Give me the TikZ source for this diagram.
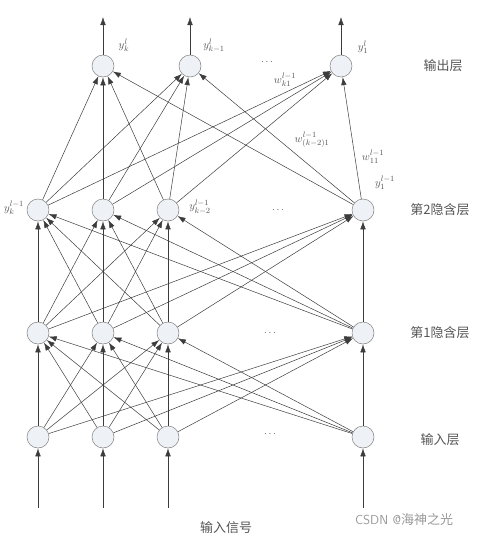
\documentclass[tikz,border=0pt]{standalone}
\usepackage{fontspec}
\newfontfamily\cjk{Noto Sans CJK SC}
\usetikzlibrary{arrows.meta}
\definecolor{nodefill}{RGB}{238,242,246}
\definecolor{linegray}{RGB}{60,60,60}
\definecolor{textgray}{RGB}{85,85,85}
\tikzset{
  neuron/.style={circle, draw=gray, fill=nodefill, minimum size=22pt, inner sep=0pt},
  layername/.style={text=textgray, font=\cjk\fontsize{13}{15}\selectfont},
  wlabel/.style={text=textgray, inner sep=0.5pt, font=\fontsize{11}{13}\selectfont},
}
\begin{document}
\begin{tikzpicture}[x=1pt, y=-1pt, >={Latex[length=8pt,width=5.5pt]}, line width=0.5pt, color=linegray]
\useasboundingbox (0,0) rectangle (487,538);
% output layer
\node[neuron] (o1) at (103,66) {};
\node[neuron] (o2) at (190,66) {};
\node[neuron] (o3) at (341,66) {};
% hidden layer 2
\node[neuron] (b1) at (38,210) {};
\node[neuron] (b2) at (103,210) {};
\node[neuron] (b3) at (168,210) {};
\node[neuron] (b4) at (363,210) {};
% hidden layer 1
\node[neuron] (a1) at (38,333) {};
\node[neuron] (a2) at (103,333) {};
\node[neuron] (a3) at (168,333) {};
\node[neuron] (a4) at (363,333) {};
% input layer
\node[neuron] (i1) at (38,437) {};
\node[neuron] (i2) at (103,437) {};
\node[neuron] (i3) at (168,437) {};
\node[neuron] (i4) at (363,437) {};
% free ends
\coordinate (s1) at (38,508);
\coordinate (s2) at (103,508);
\coordinate (s3) at (168,508);
\coordinate (s4) at (363,508);
\coordinate (t1) at (103,17);
\coordinate (t2) at (190,17);
\coordinate (t3) at (341,17);
% dots
\node[text=textgray] (dots3) at (267,62) {$\cdots$};
\node[text=textgray] (dots2) at (278,210) {$\cdots$};
\node[text=textgray] (dots1) at (270,333) {$\cdots$};
\node[text=textgray] (dots0) at (270,434) {$\cdots$};
% labels
\node[wlabel] (yo1) at (124,45) {$y^{l}_{k}$};
\node[wlabel] (yo2) at (214,46) {$y^{l}_{k-1}$};
\node[wlabel] (yo3) at (363,47) {$y^{l}_{1}$};
\node[wlabel] (wk1) at (285,80) {$w^{l-1}_{k1}$};
\node[wlabel] (wk21) at (312,140) {$w^{l-1}_{(k-2)1}$};
\node[wlabel] (w11) at (373,157) {$w^{l-1}_{11}$};
\node[wlabel] (yb1) at (14,208) {$y^{l-1}_{k}$};
\node[wlabel] (yb3) at (200,207) {$y^{l-1}_{k-2}$};
\node[wlabel] (yb4) at (385,183) {$y^{l-1}_{1}$};
\node[layername] (lout) at (443,66) {输出层};
\node[layername] (lh2) at (440,210) {第2隐含层};
\node[layername] (lh1) at (440,333) {第1隐含层};
\node[layername] (lin) at (440,440) {输入层};
\node[layername] (lsig) at (226,528) {输入信号};
\node[text=gray!80, font=\sffamily\fontsize{13}{15}\selectfont] (mark) at (404,520) {CSDN @{\cjk 海神之光}};
% input signals
\draw[->] (s1) -- (i1);
\draw[->] (s2) -- (i2);
\draw[->] (s3) -- (i3);
\draw[->] (s4) -- (i4);
% input -> hidden 1
\draw[->] (i1) -- (a1);
\draw[->] (i1) -- (a2);
\draw[->] (i1) -- (a3);
\draw[->] (i1) -- (a4);
\draw[->] (i2) -- (a1);
\draw[->] (i2) -- (a2);
\draw[->] (i2) -- (a3);
\draw[->] (i2) -- (a4);
\draw[->] (i3) -- (a1);
\draw[->] (i3) -- (a2);
\draw[->] (i3) -- (a3);
\draw[->] (i3) -- (a4);
\draw[->] (i4) -- (a1);
\draw[->] (i4) -- (a2);
\draw[->] (i4) -- (a3);
\draw[->] (i4) -- (a4);
% hidden 1 -> hidden 2
\draw[->] (a1) -- (b1);
\draw[->] (a1) -- (b2);
\draw[->] (a1) -- (b3);
\draw[->] (a1) -- (b4);
\draw[->] (a2) -- (b1);
\draw[->] (a2) -- (b2);
\draw[->] (a2) -- (b3);
\draw[->] (a2) -- (b4);
\draw[->] (a3) -- (b1);
\draw[->] (a3) -- (b2);
\draw[->] (a3) -- (b3);
\draw[->] (a3) -- (b4);
\draw[->] (a4) -- (b1);
\draw[->] (a4) -- (b2);
\draw[->] (a4) -- (b3);
\draw[->] (a4) -- (b4);
% hidden 2 -> output
\draw[->] (b1) -- (o1);
\draw[->] (b1) -- (o2);
\draw[->] (b1) -- (o3);
\draw[->] (b2) -- (o1);
\draw[->] (b2) -- (o2);
\draw[->] (b2) -- (o3);
\draw[->] (b3) -- (o1);
\draw[->] (b3) -- (o2);
\draw[->] (b3) -- (o3);
\draw[->] (b4) -- (o1);
\draw[->] (b4) -- (o2);
\draw[->] (b4) -- (o3);
% outputs
\draw[->] (o1) -- (t1);
\draw[->] (o2) -- (t2);
\draw[->] (o3) -- (t3);
\end{tikzpicture}
\end{document}
